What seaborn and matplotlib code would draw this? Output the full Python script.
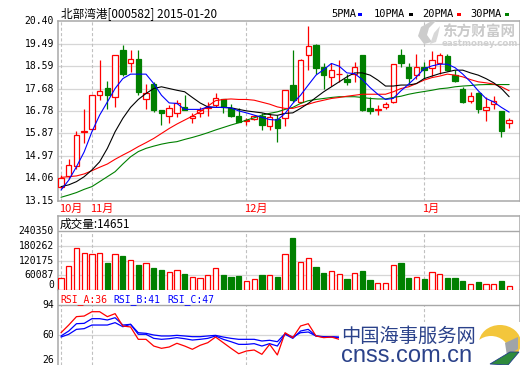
import numpy as np
import pandas as pd
import seaborn as sns
import matplotlib
matplotlib.use("Agg")
import matplotlib.pyplot as plt
import matplotlib.transforms as mtransforms
from matplotlib.patches import Rectangle, Ellipse, Polygon

# ---------------- data ----------------
title = "北部湾港[000582] 2015-01-20"
price_ticks = [13.15, 14.06, 14.97, 15.87, 16.78, 17.68, 18.59, 19.49, 20.40]
vol_ticks = [0, 60087, 120175, 180262, 240350]
rsi_ticks = [26, 60, 94]
month_labels = ["10月", "11月", "12月", "1月"]
month_start_idx = [0, 4, 24, 47]

open_ = [13.70, 14.16, 14.57, 15.91, 16.06, 17.40, 17.72, 17.32, 19.22, 18.69,
         18.85, 17.24, 17.86, 16.81, 16.58, 16.68, 16.92, 16.48, 16.68, 16.90,
         17.01, 17.24, 16.88, 16.58, 16.38, 16.46, 16.58, 16.17, 16.45, 16.50,
         17.82, 17.14, 19.05, 19.42, 18.55, 18.15, 18.25, 18.08, 18.28, 19.02,
         16.89, 16.82, 16.94, 17.14, 19.02, 18.55, 18.22, 18.55, 18.52, 18.69,
         18.99, 18.22, 17.68, 17.19, 17.48, 16.81, 17.05, 16.78, 16.31]
high = [14.20, 14.83, 15.97, 16.84, 17.40, 18.82, 17.98, 19.05, 19.42, 19.25,
        19.22, 17.88, 17.95, 16.81, 17.01, 17.21, 17.41, 16.68, 16.92, 17.14,
        17.51, 17.24, 17.05, 16.88, 16.48, 16.61, 16.68, 16.68, 16.61, 17.61,
        19.22, 18.85, 20.19, 19.49, 18.69, 18.71, 18.82, 18.28, 18.75, 19.02,
        17.35, 17.01, 17.14, 18.65, 19.29, 18.71, 19.09, 18.75, 19.18, 19.12,
        19.09, 18.42, 17.75, 17.55, 17.55, 17.32, 17.37, 16.78, 16.50]
low = [13.66, 14.02, 14.42, 15.47, 16.01, 17.21, 16.84, 16.94, 18.19, 18.35,
       17.41, 16.84, 16.74, 16.23, 16.31, 16.54, 16.81, 16.30, 16.54, 16.58,
       16.92, 16.70, 16.54, 16.34, 16.23, 16.40, 16.01, 16.01, 15.54, 16.17,
       17.14, 17.08, 18.42, 18.28, 17.68, 17.77, 17.95, 17.82, 17.95, 16.78,
       16.65, 16.61, 16.84, 17.08, 18.55, 17.88, 18.08, 18.08, 18.18, 18.28,
       18.39, 17.95, 17.10, 17.10, 16.70, 16.38, 16.84, 15.71, 16.11]
close = [14.06, 14.59, 15.79, 15.97, 17.40, 17.59, 17.40, 19.05, 18.28, 18.85,
         17.55, 17.52, 16.81, 16.68, 16.88, 17.08, 16.81, 16.58, 16.81, 16.95,
         17.28, 16.92, 16.58, 16.34, 16.43, 16.57, 16.23, 16.54, 16.10, 17.61,
         17.21, 18.82, 19.38, 18.51, 18.22, 18.44, 18.28, 17.95, 18.55, 16.81,
         16.78, 16.86, 17.04, 18.65, 18.71, 18.12, 18.55, 18.44, 18.82, 19.02,
         18.44, 17.98, 17.14, 17.39, 16.84, 16.94, 17.19, 15.98, 16.41]

ma5 = [13.59, 13.99, 14.53, 15.13, 15.94, 16.61, 17.14, 17.68, 18.08, 18.26,
       18.26, 18.26, 17.88, 17.41, 17.10, 17.08, 16.84, 16.84, 16.84, 16.94,
       16.92, 16.92, 16.90, 16.78, 16.70, 16.61, 16.52, 16.43, 16.41, 16.68,
       17.08, 17.41, 17.82, 18.22, 18.44, 18.69, 18.58, 18.31, 18.28, 18.04,
       17.72, 17.45, 17.24, 17.28, 17.59, 17.86, 18.15, 18.48, 18.59, 18.66,
       18.66, 18.52, 18.26, 17.95, 17.59, 17.28, 17.14, 16.92, 16.73]
ma10 = [13.73, 13.80, 13.93, 14.13, 14.40, 14.73, 15.27, 15.94, 16.48, 16.92,
        17.24, 17.48, 17.68, 17.75, 17.68, 17.61, 17.55, 17.32, 17.10, 16.94,
        16.92, 16.92, 16.90, 16.84, 16.78, 16.74, 16.70, 16.63, 16.60, 16.68,
        16.70, 16.88, 17.08, 17.32, 17.55, 17.75, 17.95, 18.15, 18.31, 18.31,
        18.22, 18.02, 17.78, 17.78, 17.82, 17.82, 17.88, 18.08, 18.18, 18.28,
        18.35, 18.42, 18.42, 18.31, 18.22, 18.08, 17.91, 17.68, 17.35]
ma20 = [14.10, 14.13, 14.16, 14.24, 14.37, 14.51, 14.64, 14.83, 15.00, 15.16,
        15.34, 15.50, 15.67, 15.87, 16.07, 16.25, 16.41, 16.57, 16.74, 16.97,
        17.19, 17.24, 17.26, 17.24, 17.24, 17.21, 17.13, 17.05, 16.94, 16.88,
        16.88, 16.97, 17.05, 17.14, 17.21, 17.28, 17.32, 17.37, 17.41, 17.45,
        17.45, 17.45, 17.45, 17.55, 17.68, 17.75, 17.88, 18.02, 18.12, 18.18,
        18.26, 18.22, 18.15, 18.04, 17.95, 17.91, 17.86, 17.75, 17.59]
ma30 = [13.30, 13.39, 13.49, 13.62, 13.73, 13.93, 14.13, 14.33, 14.64, 14.93,
        15.14, 15.27, 15.36, 15.44, 15.50, 15.54, 15.63, 15.71, 15.80, 15.90,
        16.01, 16.11, 16.21, 16.30, 16.41, 16.50, 16.61, 16.68, 16.74, 16.84,
        16.92, 17.08, 17.19, 17.24, 17.28, 17.32, 17.35, 17.35, 17.35, 17.32,
        17.28, 17.26, 17.26, 17.32, 17.37, 17.45, 17.51, 17.56, 17.61, 17.67,
        17.70, 17.75, 17.78, 17.80, 17.83, 17.84, 17.84, 17.84, 17.84]

volume = [48500, 98200, 172800, 152100, 147900, 152100, 111900, 147900, 136700, 123000,
          103600, 110600, 91200, 82900, 73300, 81600, 66300, 52600, 48500, 60900,
          89900, 62200, 53900, 56800, 36000, 44300, 62200, 60900, 53900, 147900,
          211300, 114800, 131400, 95300, 70400, 77500, 65100, 45600, 69200, 78700,
          41400, 27800, 27800, 102400, 111900, 49700, 52600, 45600, 73300, 65100,
          49700, 49700, 37300, 23600, 33200, 23600, 23600, 37300, 14651]

# RSI values readable up to the point where the watermark covers them
rsi_a = [62.6, 71.3, 80.8, 81.5, 86.4, 86.4, 80.8, 84.2, 70.2, 69.1,
         55.1, 55.1, 47.5, 44.9, 46.4, 50.6, 47.5, 43.8, 48.3, 51.3,
         57.7, 51.3, 44.9, 38.8, 41.9, 43.0, 38.1, 49.4, 37.4, 62.6,
         57.0, 70.2, 72.8, 58.9, 57.0, 57.7, 55.1]
rsi_b = [58.9, 64.5, 72.8, 73.2, 78.5, 78.5, 77.0, 79.6, 71.3, 72.1,
         60.8, 60.8, 56.2, 55.1, 55.8, 57.0, 55.8, 54.3, 55.1, 56.2,
         58.9, 55.1, 52.4, 49.4, 49.4, 50.2, 47.5, 50.2, 47.5, 60.8,
         56.2, 64.5, 66.4, 58.9, 57.7, 57.7, 57.0]
rsi_c = [57.7, 60.8, 66.4, 67.2, 71.3, 71.3, 71.3, 74.0, 69.4, 72.1,
         62.6, 61.9, 60.0, 58.9, 58.9, 59.6, 58.9, 58.1, 58.1, 58.9,
         59.6, 57.7, 56.2, 55.1, 55.1, 55.1, 53.2, 54.0, 52.4, 61.5,
         57.7, 62.6, 63.4, 58.9, 58.1, 58.1, 57.7]
rsi_last = {"A": 36, "B": 41, "C": 47}
vol_last = 14651

# ---------------- style ----------------
sns.set_theme(style="white")
plt.rcParams["font.family"] = ["DejaVu Sans", "Noto Sans CJK SC"]

RED = "#FF0000"
GREEN = "#008000"
BLUE = "#0000FF"
SPINE = "#A8A8A8"
GRID = "#D6D6D6"
DASH = "#C0C0C0"
MONO = "DejaVu Sans Mono"
CJK = ["Noto Sans CJK SC", "DejaVu Sans"]

W, H = 520, 365
fig = plt.figure(figsize=(W / 100, H / 100), dpi=100)
fig.patch.set_facecolor("white")


def ax_at(left, top, right, bottom):
    return fig.add_axes([left / W, 1 - bottom / H, (right - left) / W, (bottom - top) / H])


def ft(x, y, s, **kw):
    kw.setdefault("va", "center")
    kw.setdefault("ha", "left")
    return fig.text(x / W, 1 - y / H, s, **kw)


def fpoly(pts, **kw):
    p = Polygon([(x / W, 1 - y / H) for x, y in pts], closed=True,
                transform=fig.transFigure, **kw)
    fig.patches.append(p)


n = len(close)
idx = np.arange(n)
XL = (-0.39, 59.34)
L, R = 58, 519.5


def ylab(ax, vals, labels, vas):
    trans = mtransforms.blended_transform_factory(ax.transAxes, ax.transData) + \
        mtransforms.ScaledTranslation(-4 / 100, 0, fig.dpi_scale_trans)
    for v, s, va in zip(vals, labels, vas):
        ax.text(0, v, s, transform=trans, ha="right", va=va, fontsize=7,
                family=MONO, color="black", clip_on=False)


def base(ax):
    ax.set_xlim(*XL)
    ax.set_xticks([])
    ax.set_yticks([])
    for s in ax.spines.values():
        s.set_color(SPINE)
        s.set_linewidth(1.1)


# ---------------- main price panel ----------------
ax = ax_at(L, 21, R, 201)
base(ax)
ax.set_ylim(13.15, 20.40)
for t in price_ticks[1:-1]:
    ax.axhline(t, color=GRID, lw=0.9, zorder=0)
for m in month_start_idx:
    ax.axvline(m, color=DASH, lw=0.8, dashes=(2.8, 2.0), zorder=0)
ylab(ax, price_ticks, [f"{t:.2f}" for t in price_ticks], ["center"] * len(price_ticks))

bw = 0.7
for i in range(n):
    o, h, l, c = open_[i], high[i], low[i], close[i]
    up = c >= o
    col = RED if up else GREEN
    ax.vlines(i, l, h, color=col, lw=0.9, zorder=2)
    lo_, hi_ = min(o, c), max(o, c)
    ax.add_patch(Rectangle((i - bw / 2, lo_), bw, max(hi_ - lo_, 0.012),
                           facecolor="white" if up else GREEN, edgecolor=col,
                           lw=0.9, zorder=3))

df_ma = pd.DataFrame({"i": idx, "ma5": ma5, "ma10": ma10, "ma20": ma20, "ma30": ma30})
for key, col in [("ma30", GREEN), ("ma20", RED), ("ma10", "black"), ("ma5", BLUE)]:
    sns.lineplot(data=df_ma, x="i", y=key, ax=ax, color=col, lw=0.8, zorder=5,
                 legend=False, estimator=None, sort=False)
ax.set_xlabel("")
ax.set_ylabel("")
ax.set_xlim(*XL)
ax.set_ylim(13.15, 20.40)

# eastmoney watermark
fpoly([(424, 44), (418, 36), (421, 27), (430, 22), (436, 21), (429, 28), (427, 35), (432, 42)],
      facecolor="#CCCCCC", edgecolor="none", zorder=1)
fpoly([(430, 44), (434, 33), (440, 26), (438, 35), (436, 42)],
      facecolor="#D8D8D8", edgecolor="none", zorder=1)
ft(442, 31.5, "东方财富网", fontsize=10.5, color="#CACACA", family=CJK, fontweight="bold")
ft(442, 43.5, "eastmoney.com", fontsize=6.2, color="#D0D0D0", family="DejaVu Sans",
   fontweight="bold")

# title and legend
ft(61, 14, title, fontsize=8.4, family=CJK, color="black")
leg = [("5PMA", 331, 358, BLUE), ("10PMA", 374, 409, "black"),
       ("20PMA", 422, 457, RED), ("30PMA", 470, 505, GREEN)]
for name, tx, sx, col in leg:
    ft(tx, 14, name, fontsize=7.5, family=MONO, color="black")
    fig.patches.append(Rectangle((sx / W, 1 - 15.5 / H), 4 / W, 3 / H,
                                 transform=fig.transFigure, facecolor=col,
                                 edgecolor="none"))

# month labels
for lab, m in zip(month_labels, month_start_idx):
    xpix = L + (m - XL[0]) / (XL[1] - XL[0]) * (R - L)
    ft(xpix - 2, 208.5, lab, fontsize=8, family=CJK, color=RED)

# ---------------- volume panel ----------------
vtop, vdata, vbot = 216, 231, 290
vmax = vol_ticks[-1] * (vbot - vtop) / (vbot - vdata)
axv = ax_at(L, vtop, R, vbot)
base(axv)
axv.spines["bottom"].set_visible(False)
axv.set_ylim(0, vmax)
axv.axhline(vol_ticks[-1], color=SPINE, lw=1.0, zorder=1)
for t in vol_ticks[1:-1]:
    axv.axhline(t, color=GRID, lw=0.9, zorder=0)
for m in month_start_idx:
    axv.vlines(m, 0, vol_ticks[-1], color=DASH, lw=0.8, linestyles=(0, (2.8, 2.0)), zorder=0)
ylab(axv, vol_ticks, [str(t) for t in vol_ticks],
     ["bottom", "center", "center", "center", "center"])
for i in range(n):
    up = close[i] >= open_[i]
    col = RED if up else GREEN
    axv.add_patch(Rectangle((i - 0.34, 0), 0.68, volume[i],
                            facecolor="white" if up else GREEN, edgecolor=col,
                            lw=0.9, zorder=3))
ft(60, 224.5, f"成交量:{vol_last}", fontsize=8.4, family=CJK, color="black")

# ---------------- RSI panel ----------------
axr = ax_at(L, vbot, R, 365)
base(axr)
axr.spines["top"].set_visible(False)
axr.spines["bottom"].set_visible(False)
axr.set_ylim(26, 111)
axr.axhline(94, color=SPINE, lw=1.0, zorder=1)
axr.axhline(60, color=GRID, lw=0.9, zorder=0)
for m in month_start_idx:
    axr.vlines(m, 26, 94, color=DASH, lw=0.8, linestyles=(0, (2.8, 2.0)), zorder=0)
ylab(axr, rsi_ticks, [str(t) for t in rsi_ticks], ["bottom", "center", "center"])
ridx = np.arange(len(rsi_a))
df_rsi = pd.DataFrame({"i": ridx, "a": rsi_a, "b": rsi_b, "c": rsi_c})
for key, col in [("c", BLUE), ("b", BLUE), ("a", RED)]:
    sns.lineplot(data=df_rsi, x="i", y=key, ax=axr, color=col, lw=0.9, zorder=4,
                 legend=False, estimator=None, sort=False)
axr.set_xlabel("")
axr.set_ylabel("")
axr.set_xlim(*XL)
axr.set_ylim(26, 111)
ft(60, 299.5, f"RSI_A:{rsi_last['A']}", fontsize=7, family=MONO, color=RED)
ft(113, 299.5, f"RSI_B:{rsi_last['B']}", fontsize=7, family=MONO, color=BLUE)
ft(167, 299.5, f"RSI_C:{rsi_last['C']}", fontsize=7, family=MONO, color=BLUE)

# cnss watermark
fig.patches.append(Rectangle((339 / W, 0), 181 / W, (365 - 322) / H,
                             transform=fig.transFigure, facecolor="white",
                             edgecolor="none", zorder=10))
t1 = ft(341, 336, "中国海事服务网", fontsize=13.9, family=CJK, color="#2B428A")
t2 = ft(341, 355.5, "cnss.com.cn", fontsize=17, family="Liberation Sans", color="#2B428A")
t1.set_zorder(11)
t2.set_zorder(11)
e1 = Ellipse((500 / W, 1 - 343 / H), 42 / W, 36 / H, transform=fig.transFigure,
             facecolor="#F3C63C", edgecolor="none", zorder=11)
e2 = Ellipse((491 / W, 1 - 352 / H), 36 / W, 32 / H, transform=fig.transFigure,
             facecolor="white", edgecolor="none", zorder=12)
fig.patches.extend([e1, e2])
fpoly([(505, 343), (518, 337), (518, 349), (507, 356)], facecolor="#A0A4A8",
      edgecolor="none", zorder=13)
fpoly([(490, 364), (510, 352), (519, 352), (508, 365)], facecolor="#2F8A3C",
      edgecolor="#1F3C88", lw=0.6, zorder=13)

fig.savefig("out.png", dpi=100)
